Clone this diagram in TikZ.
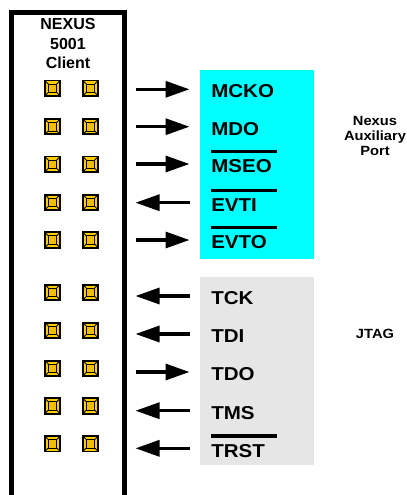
\documentclass[tikz,border=0pt]{standalone}
\usepackage{fontspec}
\setmainfont{Liberation Sans}
\newfontfamily\lblfont[FakeStretch=1.1]{Liberation Sans}
\usetikzlibrary{arrows.meta,calc}
\definecolor{padgold}{HTML}{FFCC00}
\definecolor{padin}{HTML}{F2BE00}
\definecolor{jtaggray}{HTML}{E6E6E6}
\definecolor{auxcyan}{HTML}{00FFFF}
\tikzset{
  sig/.style={line width=2.4pt, -{Triangle[length=18pt,width=12pt]}},
  sigtxt/.style={font=\lblfont\bfseries\fontsize{14}{16}\selectfont, inner sep=0pt, anchor=base west},
  overbar/.style={line width=2.4pt},
  pad/.style={draw=black, line width=1.3pt, fill=padgold, minimum size=11.5pt, inner sep=0pt, outer sep=0pt,
    path picture={
      \coordinate (pc) at (path picture bounding box.center);
      \draw[line width=0.6pt, fill=padin] ([shift={(-3.2pt,-3.2pt)}]pc) rectangle ([shift={(3.2pt,3.2pt)}]pc);
      \draw[line width=0.6pt] ([shift={(-3.2pt,-3.2pt)}]pc) -- (path picture bounding box.south west)
        ([shift={(3.2pt,-3.2pt)}]pc) -- (path picture bounding box.south east)
        ([shift={(3.2pt,3.2pt)}]pc) -- (path picture bounding box.north east)
        ([shift={(-3.2pt,3.2pt)}]pc) -- (path picture bounding box.north west);
    }},
  sidetxt/.style={font=\lblfont\bfseries\fontsize{10}{11.25}\selectfont, align=center, inner sep=0pt}
}
\begin{document}
\begin{tikzpicture}[x=0.75pt,y=-0.75pt]
\useasboundingbox (0,0) rectangle (406,495);
% client box
\node[draw=black, line width=3.4pt, outer sep=0pt, inner sep=0pt, anchor=north west,
      minimum width=84.75pt, minimum height=363.5pt] (client) at (11.5,12.5) {};
\node[font=\bfseries\fontsize{12}{14.6}\selectfont, align=center, inner sep=0pt] (title) at (68,43.5) {NEXUS\\5001\\Client};
% signal groups
\node[fill=auxcyan, inner sep=0pt, outer sep=0pt, anchor=north west, minimum width=85.5pt, minimum height=141.75pt] (aux) at (200,70) {};
\node[fill=jtaggray, inner sep=0pt, outer sep=0pt, anchor=north west, minimum width=85.5pt, minimum height=141pt] (jtag) at (200,277) {};
\node[sidetxt] (auxlbl) at (375,136) {Nexus\\Auxiliary\\Port};
\node[sidetxt] (jtaglbl) at (375,334) {JTAG};
% rows
\foreach \i/\n/\ay/\py/\f/\t/\o in {
  1/MCKO/89.3/88.3/L/R/0,
  2/MDO/126.7/126.7/L/R/0,
  3/MSEO/164/164.3/L/R/1,
  4/EVTI/202.7/202.3/R/L/1,
  5/EVTO/240/240/L/R/1,
  6/TCK/296/292.3/R/L/0,
  7/TDI/334/330.3/R/L/0,
  8/TDO/372/368.3/L/R/0,
  9/TMS/410.7/406/R/L/0,
  10/TRST/448.3/443.7/R/L/1}{
  \node[pad] (pa-\i) at (52.5,\py) {};
  \node[pad] (pb-\i) at (90.5,\py) {};
  \coordinate (L-\i) at (135.5,\ay);
  \coordinate (R-\i) at (189.5,\ay);
  \draw[sig] (\f-\i) -- (\t-\i);
  \node[sigtxt] (s-\i) at (211,\ay+8.7) {\n};
  \ifnum\o=1
    \coordinate (ob-\i) at (211,\ay-12.3);
    \coordinate (oe-\i) at (277,\ay-12.3);
    \draw[overbar] (ob-\i) -- (oe-\i);
  \fi
}
\end{tikzpicture}
\end{document}
